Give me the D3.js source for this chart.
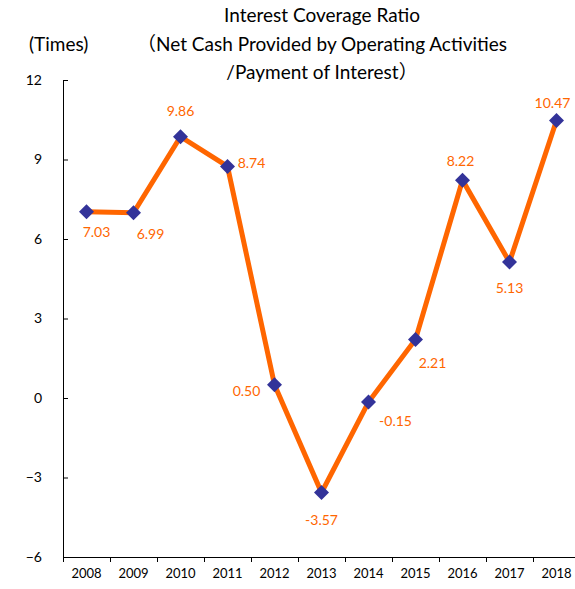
<!DOCTYPE html>
<html>
<head>
<meta charset="utf-8">
<script src="https://cdn.jsdelivr.net/npm/d3@7"></script>
<style>
  body { margin: 0; background: #fff; }
  text { font-family: "Lato", "Noto Sans CJK JP", sans-serif; }
</style>
</head>
<body>
<script>
// 数据
const years = ["2008", "2009", "2010", "2011", "2012", "2013", "2014", "2015", "2016", "2017", "2018"];
const ratios = [7.03, 6.99, 9.86, 8.74, 0.50, -3.57, -0.15, 2.21, 8.22, 5.13, 10.47];
const yTicks = [-6, -3, 0, 3, 6, 9, 12];
const titleLines = ["Interest Coverage Ratio", "（Net Cash Provided by Operating Activities", "/Payment of Interest）"];

const svg = d3.select("body")
  .append("svg")
  .attr("width", 575)
  .attr("height", 589);

const x = d3.scaleBand().domain(years).range([63, 580]);
const y = d3.scaleLinear().domain([-6, 12]).range([557, 80]);

// 标题
svg.selectAll(".title")
  .data(titleLines)
  .enter()
  .append("text")
  .attr("class", "title")
  .attr("x", 322)
  .attr("y", (d, i) => 22 + i * 28.5)
  .attr("text-anchor", "middle")
  .style("font-size", "19px")
  .attr("fill", "#000")
  .text(d => d);

svg.append("text")
  .attr("x", 29)
  .attr("y", 50.5)
  .style("font-size", "19px")
  .text("(Times)");

// Y轴
const yAxis = svg.append("g")
  .attr("transform", "translate(63,0)")
  .call(d3.axisLeft(y).tickValues(yTicks).tickSize(-5).tickPadding(21).tickFormat(d3.format("d")));
yAxis.select(".domain").attr("stroke", "#000").attr("d", "M0.5," + y(12) + "V" + y(-6));
yAxis.selectAll(".tick line").attr("stroke", "#000");
yAxis.selectAll("text").style("font-size", "14px").attr("fill", "#000");

// X轴
const xAxis = svg.append("g")
  .attr("transform", "translate(0,557)")
  .call(d3.axisBottom(x).tickSize(0).tickPadding(12));
xAxis.select(".domain").attr("stroke", "#000");
xAxis.selectAll("text").style("font-size", "13px").attr("fill", "#000");
xAxis.selectAll(".sep")
  .data(years.map(d => x(d)).concat([x.range()[1]]))
  .enter()
  .append("line")
  .attr("x1", d => d + 0.5)
  .attr("x2", d => d + 0.5)
  .attr("y1", 0)
  .attr("y2", 5)
  .attr("stroke", "#000");

const cx = d => x(d) + x.bandwidth() / 2;

// 折线
const line = d3.line()
  .x((d, i) => cx(years[i]))
  .y(d => y(d));

svg.append("path")
  .datum(ratios)
  .attr("fill", "none")
  .attr("stroke", "#FF6600")
  .attr("stroke-width", 5)
  .attr("d", line);

// 菱形标记
svg.selectAll(".marker")
  .data(ratios)
  .enter()
  .append("path")
  .attr("class", "marker")
  .attr("transform", (d, i) => `translate(${cx(years[i])},${y(d)})`)
  .attr("d", "M0,-7.5L7.5,0L0,7.5L-7.5,0Z")
  .attr("fill", "#333399");

// 数据标签位置
const labelOffset = {
  "2008": [10, 20], "2009": [17, 21], "2010": [0, -26], "2011": [24, -4],
  "2012": [-28, 6], "2013": [0, 27], "2014": [27, 19], "2015": [17, 23],
  "2016": [-2, -20], "2017": [0, 25], "2018": [-4, -18]
};

svg.selectAll(".label")
  .data(ratios)
  .enter()
  .append("text")
  .attr("class", "label")
  .attr("x", (d, i) => cx(years[i]) + labelOffset[years[i]][0])
  .attr("y", (d, i) => y(d) + labelOffset[years[i]][1])
  .attr("text-anchor", "middle")
  .attr("dominant-baseline", "central")
  .attr("fill", "#FF6600")
  .style("font-size", "14px")
  .text(d => d.toFixed(2));
</script>
</body>
</html>
